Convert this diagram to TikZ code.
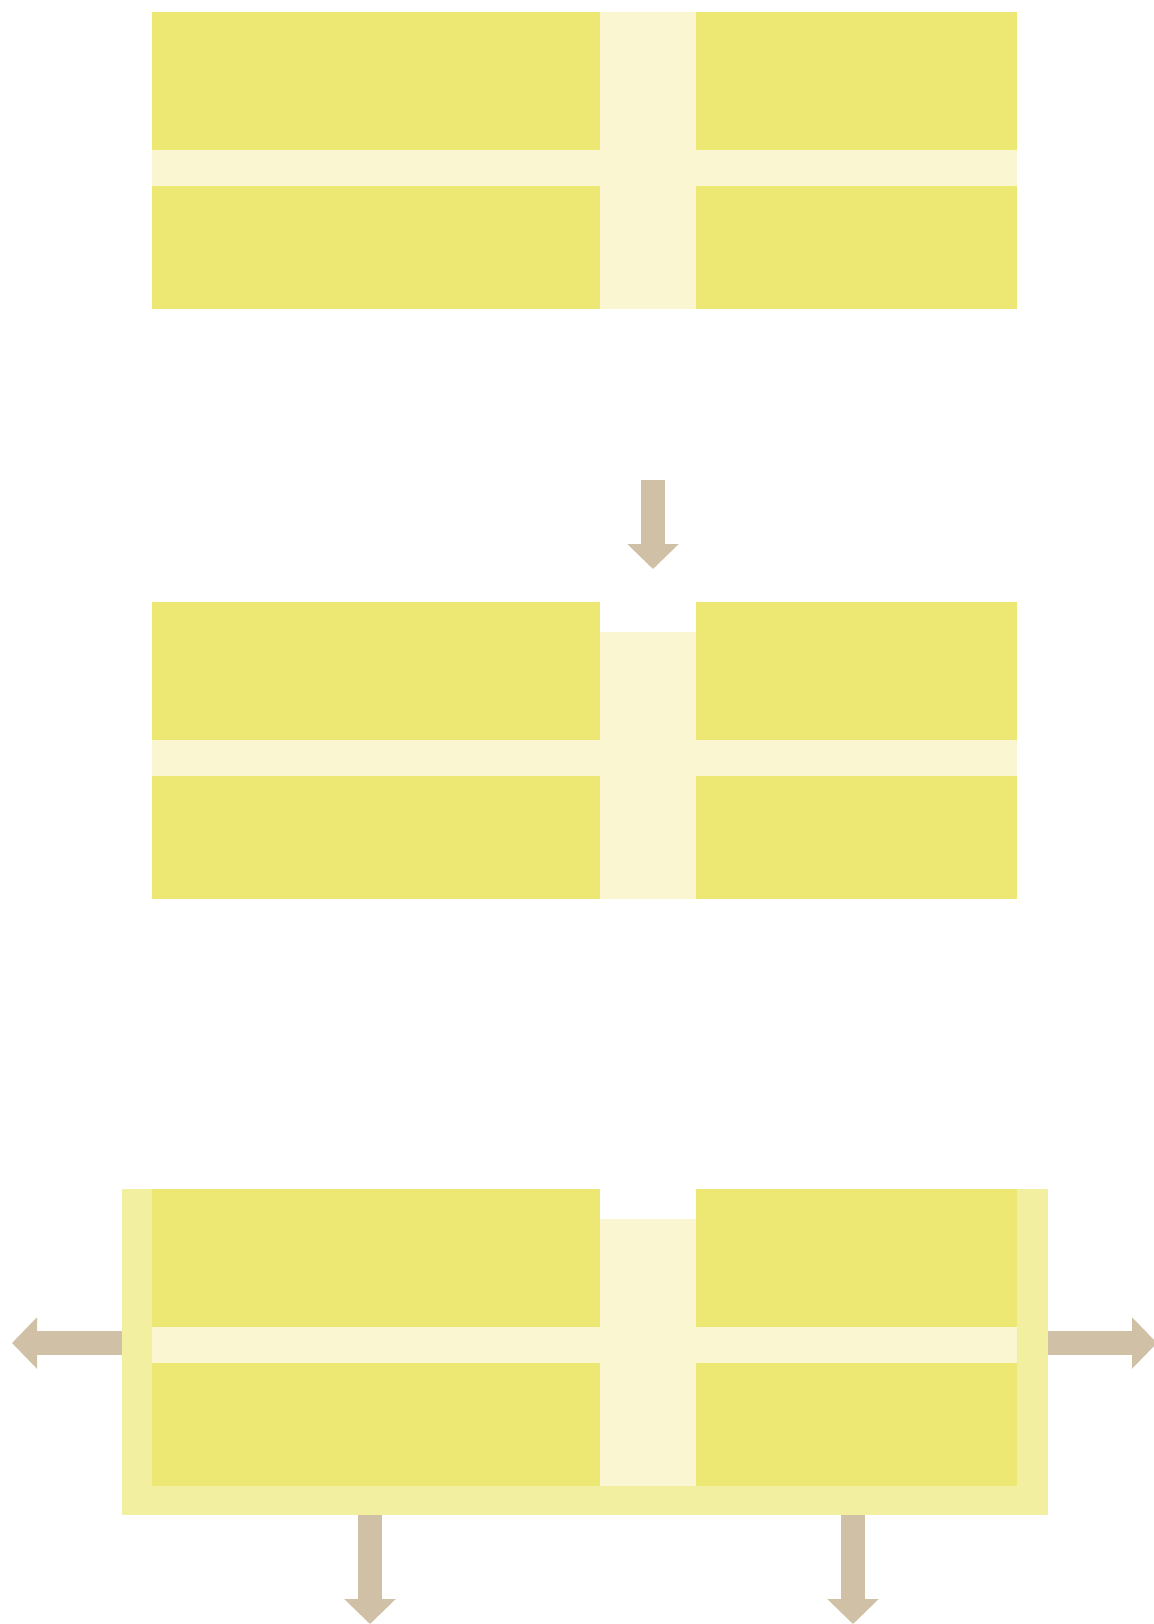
\documentclass[tikz,border=0pt]{standalone}
\usetikzlibrary{arrows.meta}

\definecolor{blockfill}{RGB}{237,232,115}
\definecolor{stripfill}{RGB}{249,246,209}
\definecolor{framefill}{RGB}{242,239,161}
\definecolor{arrowfill}{RGB}{208,192,165}

\begin{document}
\begin{tikzpicture}[x=0.5pt, y=-0.5pt]

\tikzset{
  block/.style={fill=blockfill},
  strip/.style={fill=stripfill},
  frame/.style={fill=framefill},
  notch/.style={fill=white},
  flow/.style={
    draw=arrowfill,
    line width=12pt,
    -{Triangle[length=12.5pt, width=25pt]}
  }
}

\useasboundingbox (0,0) rectangle (1154,1624);

% Frame round the last block
\fill[frame] (122,1189) rectangle (1048,1515);

% Blocks with their strips
\foreach \top in {12,602,1189}{
  \fill[block] (152,\top) rectangle (1017,\top+297);
  \fill[strip] (152,\top+138) rectangle (1017,\top+174);
  \fill[strip] (600,\top) rectangle (696,\top+297);
}

% Notches on top of the second and third block
\fill[notch] (600,602)  rectangle (696,632);
\fill[notch] (600,1189) rectangle (696,1219);

% Coordinates of the arrows
\coordinate (inA)    at (653,480);
\coordinate (inB)    at (653,569);
\coordinate (frameW) at (122,1343);
\coordinate (outW)   at (12,1343);
\coordinate (frameE) at (1048,1343);
\coordinate (outE)   at (1157,1343);
\coordinate (frameS1) at (370,1515);
\coordinate (outS1)   at (370,1624);
\coordinate (frameS2) at (853,1515);
\coordinate (outS2)   at (853,1624);

% Arrows
\draw[flow] (inA) -- (inB);
\draw[flow] (frameW) -- (outW);
\draw[flow] (frameE) -- (outE);
\draw[flow] (frameS1) -- (outS1);
\draw[flow] (frameS2) -- (outS2);

\end{tikzpicture}
\end{document}
